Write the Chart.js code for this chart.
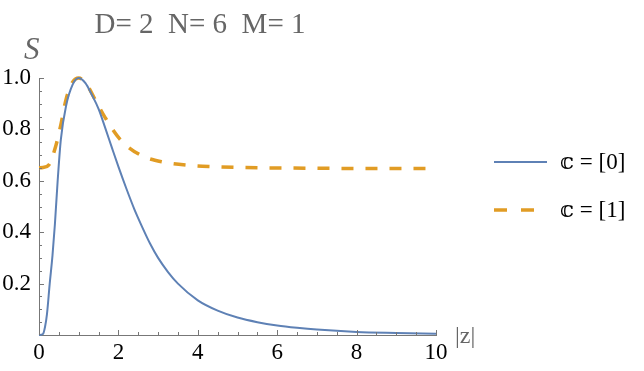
<!DOCTYPE html>
<html>
<head>
<meta charset="utf-8">
<script src="https://cdn.jsdelivr.net/npm/chart.js@4"></script>
<style>
  html, body { margin: 0; padding: 0; background: #fff; }
  #wrap { width: 644px; height: 371px; }
</style>
</head>
<body>
<div id="wrap"><canvas id="sChart" width="644" height="371"></canvas></div>
<script>
// valores
var zBlue = [0, 0.1, 0.15, 0.2, 0.27, 0.34, 0.4, 0.47, 0.55, 0.68, 0.85, 1.0, 1.17, 1.33, 1.5, 1.67, 1.84, 2.0, 2.2, 2.4, 2.6, 2.8, 3.0, 3.25, 3.5, 4.0, 4.5, 5.0, 5.5, 6.0, 6.5, 7.0, 8.0, 9.0, 10.0];
var sBlue = [0, 0.004, 0.03, 0.08, 0.2, 0.31, 0.43, 0.6, 0.76, 0.89, 0.975, 1.0, 0.98, 0.935, 0.88, 0.805, 0.727, 0.655, 0.57, 0.49, 0.42, 0.355, 0.30, 0.245, 0.20, 0.135, 0.095, 0.068, 0.05, 0.037, 0.028, 0.021, 0.012, 0.008, 0.005];

var zOrange = [0, 0.1, 0.25, 0.42, 0.55, 0.68, 0.85, 1.0, 1.2, 1.42, 1.67, 2.05, 2.56, 3.16, 3.79, 4.43, 5.0, 6, 7, 8, 9, 10];
var sOrange = [0.651, 0.652, 0.662, 0.734, 0.818, 0.916, 0.985, 1.0, 0.975, 0.914, 0.845, 0.76, 0.70, 0.672, 0.66, 0.655, 0.652, 0.65, 0.649, 0.648, 0.648, 0.648];

var seriesLabels = ['\u{1D554} = [0]', '\u{1D554} = [1]'];
var xTicks = [0, 2, 4, 6, 8, 10];
var yTicks = [0.2, 0.4, 0.6, 0.8, 1.0];
var titleText = 'D= 2  N= 6  M= 1';

var blue = '#5E81B5';
var orange = '#E19C24';
var serif = "'Liberation Serif', 'DejaVu Serif', serif";

function pts(xs, ys) {
    return xs.map(function (x, i) { return { x: x, y: ys[i] }; });
}

// desenha titulo, rotulos dos eixos, ticks internos e legenda
var extras = {
    id: 'extras',
    afterDraw: function (chart) {
        var c = chart.ctx;
        var xs = chart.scales.x, ys = chart.scales.y;
        var a = chart.chartArea;
        c.save();
        c.strokeStyle = '#777';
        c.lineWidth = 1;
        // ticks do eixo x
        for (var v = 0; v <= 10.001; v += 0.5) {
            var px = Math.round(xs.getPixelForValue(v)) + 0.5;
            var len = (Math.abs(v % 2) < 0.01) ? 5 : 3;
            c.beginPath(); c.moveTo(px, a.bottom); c.lineTo(px, a.bottom - len); c.stroke();
        }
        // ticks do eixo y
        for (var k = 1; k <= 20; k++) {
            var val = k * 0.05;
            var py = Math.round(ys.getPixelForValue(val)) + 0.5;
            var l2 = (k % 4 === 0) ? 5 : 3;
            c.beginPath(); c.moveTo(a.left, py); c.lineTo(a.left + l2, py); c.stroke();
        }
        // titulo
        c.fillStyle = '#666';
        c.font = '29px ' + serif;
        c.textAlign = 'center';
        c.textBaseline = 'alphabetic';
        c.fillText(titleText, 200, 33);
        // rotulos dos eixos
        c.font = 'italic 31px ' + serif;
        c.textAlign = 'left';
        c.fillText('S', 24, 59);
        c.font = '24px ' + serif;
        c.fillText('|z|', 455, 343);
        // legenda
        var colors = [blue, orange];
        var dashes = [[], [13, 14]];
        var widths = [2, 3.5];
        var rows = [162, 210];
        c.font = '23px ' + serif;
        c.textBaseline = 'middle';
        for (var i = 0; i < 2; i++) {
            c.strokeStyle = colors[i];
            c.lineWidth = widths[i];
            c.setLineDash(dashes[i]);
            c.beginPath(); c.moveTo(494, rows[i]); c.lineTo(547, rows[i]); c.stroke();
            c.setLineDash([]);
            c.fillStyle = '#000';
            c.fillText(seriesLabels[i], 560, rows[i] + 1);
        }
        c.restore();
    }
};

document.addEventListener('DOMContentLoaded', function () {
    var ctx = document.getElementById('sChart').getContext('2d');
    new Chart(ctx, {
        type: 'line',
        data: {
            datasets: [{
                label: seriesLabels[0],
                data: pts(zBlue, sBlue),
                borderColor: blue,
                borderWidth: 2,
                pointRadius: 0,
                cubicInterpolationMode: 'monotone',
                clip: 8
            }, {
                label: seriesLabels[1],
                data: pts(zOrange, sOrange),
                borderColor: orange,
                borderWidth: 3.5,
                borderDash: [12, 12],
                pointRadius: 0,
                cubicInterpolationMode: 'monotone',
                clip: 8
            }]
        },
        options: {
            responsive: false,
            animation: false,
            layout: { padding: { left: 0, right: 208, top: 78, bottom: 0 } },
            plugins: { legend: { display: false }, tooltip: { enabled: false } },
            scales: {
                x: {
                    type: 'linear',
                    min: 0, max: 10,
                    afterFit: function (s) { s.height = 36; },
                    afterBuildTicks: function (s) { s.ticks = xTicks.map(function (v) { return { value: v }; }); },
                    grid: { display: false, drawTicks: false },
                    border: { display: true, color: '#777', width: 1 },
                    ticks: { color: '#000', padding: 4, font: { family: serif, size: 23 } }
                },
                y: {
                    min: 0, max: 1,
                    afterFit: function (s) { s.width = 39; },
                    afterBuildTicks: function (s) { s.ticks = yTicks.map(function (v) { return { value: v }; }); },
                    grid: { display: false, drawTicks: false },
                    border: { display: true, color: '#777', width: 1 },
                    ticks: {
                        color: '#000', padding: 8,
                        font: { family: serif, size: 23 },
                        callback: function (v) { return v.toFixed(1); }
                    }
                }
            }
        },
        plugins: [extras]
    });
});
</script>
</body>
</html>
